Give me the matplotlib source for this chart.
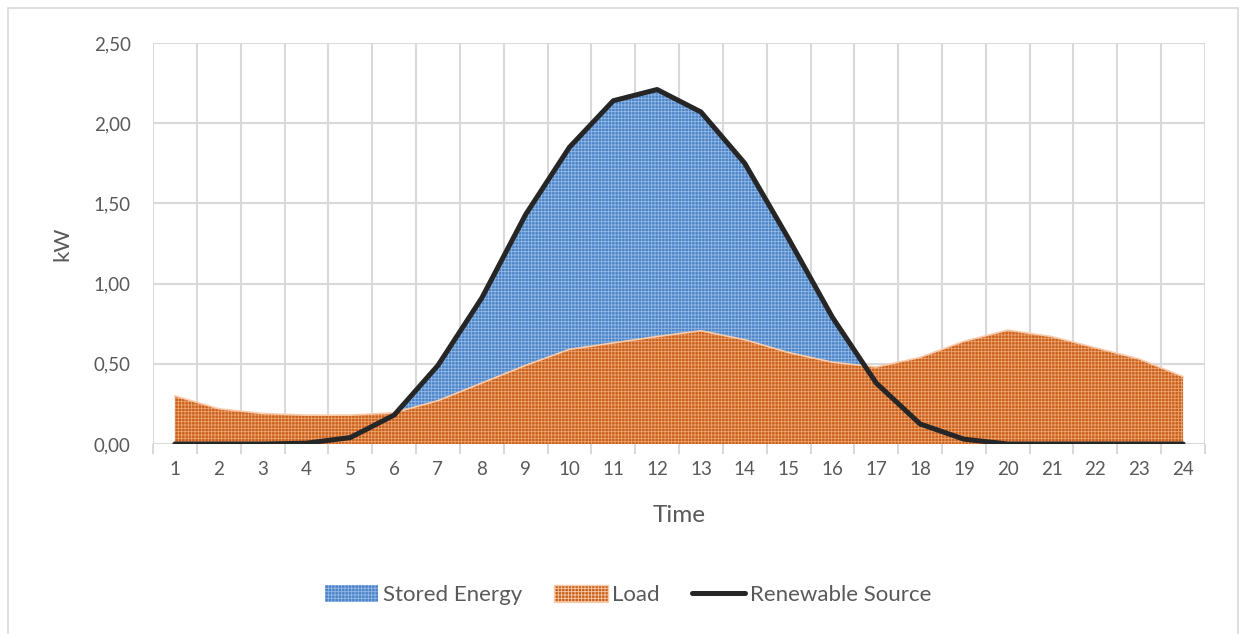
import matplotlib
matplotlib.use("Agg")
import matplotlib.pyplot as plt
from matplotlib.patches import Patch, Rectangle
from matplotlib.lines import Line2D
import numpy as np

hours = list(range(1, 25))
renewable = [0.00, 0.00, 0.00, 0.005, 0.04, 0.18, 0.49, 0.91, 1.43, 1.85, 2.14, 2.21,
             2.07, 1.75, 1.28, 0.79, 0.38, 0.125, 0.03, 0.00, 0.00, 0.00, 0.00, 0.00]
load = [0.30, 0.22, 0.19, 0.18, 0.18, 0.195, 0.27, 0.38, 0.49, 0.59, 0.63, 0.67,
        0.706, 0.65, 0.57, 0.51, 0.48, 0.54, 0.64, 0.71, 0.67, 0.60, 0.53, 0.42]
y_ticks = [0.0, 0.5, 1.0, 1.5, 2.0, 2.5]
y_labels = ["0,00", "0,50", "1,00", "1,50", "2,00", "2,50"]

FONT = "Lato"
TXT = "#595959"
GRID = "#d9d9d9"

plt.rcParams["hatch.linewidth"] = 0.6

fig = plt.figure(figsize=(12.4, 6.34), dpi=100)
fig.patches.append(Rectangle((8 / 1240, -0.1), 1230 / 1240, 1.1 - 8 / 634,
                             transform=fig.transFigure, fill=False,
                             edgecolor="#d9d9d9", linewidth=1.2))

ax = fig.add_axes([153 / 1240, 1 - 444 / 634, (1205 - 153) / 1240, (444 - 43) / 634])

x = np.array(hours, dtype=float)
ax.fill_between(x, 0, renewable, facecolor="#4d84c8", edgecolor="#93b9e4",
                hatch="+++++", linewidth=0, zorder=2)
ax.fill_between(x, 0, load, facecolor="#c8601a", edgecolor="#efa472",
                hatch="+++++", linewidth=0, zorder=3)
ax.plot(x, load, color="#f8cbad", linewidth=1.2, zorder=4)
ax.plot(x, renewable, color="#262626", linewidth=3.6, solid_capstyle="round",
        solid_joinstyle="round", zorder=5)

ax.set_xlim(0.5, 24.5)
ax.set_ylim(0, 2.5)

# gridlines between categories
for b in np.arange(0.5, 25, 1.0):
    ax.axvline(b, color=GRID, linewidth=1.5, zorder=1)
for yv in y_ticks[1:]:
    ax.axhline(yv, color=GRID, linewidth=1.5, zorder=1)
ax.axhline(0, color=GRID, linewidth=1.5, zorder=1)

for s in ax.spines.values():
    s.set_visible(False)

ax.set_yticks(y_ticks)
ax.set_yticklabels(y_labels, fontfamily=FONT, fontsize=13.5, color=TXT)
ax.tick_params(axis="y", length=0, pad=16)

ax.set_xticks(hours)
ax.set_xticklabels([str(h) for h in hours], fontfamily=FONT, fontsize=13.5, color=TXT)
ax.tick_params(axis="x", length=0, pad=12)
ax.set_xticks(np.arange(0.5, 25, 1.0), minor=True)
ax.tick_params(axis="x", which="minor", length=7, width=1.5, color=GRID)

ax.set_xlabel("Time", fontfamily=FONT, fontsize=17.5, color=TXT, labelpad=20)
ax.set_ylabel("kW", fontfamily=FONT, fontsize=16, color=TXT, labelpad=15)

handles = [
    Patch(facecolor="#4d84c8", edgecolor="#93b9e4", hatch="+++++", linewidth=0),
    Patch(facecolor="#c8601a", edgecolor="#f8cbad", hatch="+++++", linewidth=1.0),
    Line2D([0], [0], color="#262626", linewidth=3.6, solid_capstyle="round"),
]
fig.legend(handles, ["Stored Energy", "Load", "Renewable Source"],
           loc="center", bbox_to_anchor=(628 / 1240, 1 - 595 / 634), ncol=3,
           frameon=False, prop={"family": FONT, "size": 16}, labelcolor=TXT,
           handlelength=2.4, handleheight=0.8, handletextpad=0.2, columnspacing=1.45)

fig.savefig("out.png", dpi=100, facecolor="white")
